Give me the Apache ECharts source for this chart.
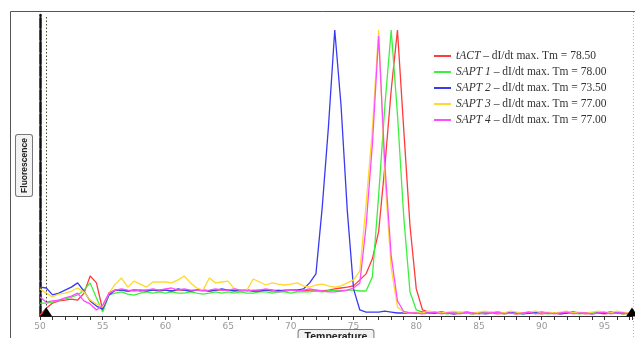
<!DOCTYPE html>
<html>
<head>
<meta charset="utf-8">
<script src="https://cdn.jsdelivr.net/npm/echarts@6/dist/echarts.min.js"></script>
<style>html,body{margin:0;padding:0;background:#fff;}#c{width:635px;height:338px;}</style>
</head>
<body>
<div id="c"></div>
<script>
const temps = [
  50,50.5,51,51.5,52,52.5,53,53.5,54,54.5,
  55,55.5,56,56.5,57,57.5,58,58.5,59,59.5,
  60,60.5,61,61.5,62,62.5,63,63.5,64,64.5,
  65,65.5,66,66.5,67,67.5,68,68.5,69,69.5,
  70,70.5,71,71.5,72,72.5,73,73.5,74,74.5,
  75,75.5,76,76.5,77,77.5,78,78.5,79,79.5,
  80,80.5,81,81.5,82,82.5,83,83.5,84,84.5,
  85,85.5,86,86.5,87,87.5,88,88.5,89,89.5,
  90,90.5,91,91.5,92,92.5,93,93.5,94,94.5,
  95,95.5,96,96.5,97
];
const seriesNames = ['tACT', 'SAPT 1', 'SAPT 2', 'SAPT 3', 'SAPT 4'];
const tmValues = ['78.50', '78.00', '73.50', '77.00', '77.00'];
const xTickLabels = [50, 55, 60, 65, 70, 75, 80, 85, 90, 95];

const tACT = [
  0.3,2.6,4.3,5.0,5.3,5.6,5.3,7.5,13.3,11,
  2,7.6,8.6,8.6,8.3,8.6,8.3,8.6,8.6,8.3,
  8.6,8.3,8.6,8.6,8.3,8.6,8.6,8.3,8.6,8.6,
  8.6,8.6,8.3,8.6,8.3,8.6,8.6,8.3,8.6,8.3,
  8.6,8.6,8.3,8.6,8.6,8.3,8.6,9.0,9.3,9.6,
  10,12,14,19,28,50,75,95,62,30,
  9,2,1.3,1.0,1.3,1.0,0.7,1.0,1.0,0.7,
  1.0,1.3,1.0,0.7,1.0,1.0,0.7,1.0,1.3,1.0,
  0.7,1.0,1.0,0.7,1.0,1.3,1.0,0.7,1.0,1.0,
  0.7,1.0,1.0,0.7,1.0
];
const sapt1 = [
  4.3,4.3,4.6,5.3,5.6,6.3,7.0,8.6,11,6,
  1.3,7.0,7.6,8.0,7.3,6.9,7.6,8.0,7.6,8.0,
  7.6,8.0,7.6,7.6,8.0,7.6,7.3,7.6,8.0,7.6,
  8.0,7.6,8.0,7.6,7.6,8.0,8.0,7.6,8.0,8.0,
  7.6,8.0,8.0,8.0,8.3,8.0,8.3,8.6,8.3,8.6,
  8.6,8.3,8.3,13,40,70,95,67,33,8,
  2,1.3,1.0,1.3,1.0,0.7,1.0,1.3,1.0,0.7,
  1.0,1.0,1.3,1.0,0.7,1.0,1.0,0.7,1.0,1.3,
  1.0,0.7,1.0,1.0,1.3,1.0,0.7,1.0,1.0,1.3,
  1.0,1.3,1.0,0.7,1.0
];
const sapt2 = [
  9.6,9.3,7.0,7.6,8.6,9.6,11,8.3,5,3.3,
  2.3,7.0,8.6,8.6,8.3,8.6,8.6,8.3,8.6,8.6,
  8.6,8.3,9.0,8.6,8.3,8.6,8.6,8.3,8.6,9.0,
  8.6,8.3,8.6,8.6,8.3,8.3,8.6,8.6,8.3,8.6,
  8.6,8.6,9.0,11,14,36,63,95,70,35,
  9,2,1.3,1.3,1.3,1.6,1.3,1.0,1.0,1.0,
  1.0,1.3,1.0,1.0,1.3,1.0,0.7,1.0,1.3,1.0,
  1.0,0.7,1.0,1.3,1.0,1.3,1.0,0.7,1.0,1.0,
  1.3,1.0,1.0,0.7,1.0,1.3,1.0,1.0,0.7,1.0,
  1.0,1.3,1.0,1.0,0.7
];
const sapt3 = [
  9.0,7.6,6.3,7.3,7.6,8.3,9.3,8.0,5.3,4.0,
  3.0,7.6,10.6,12.6,9.6,11.6,10.6,9.6,11.3,11.3,
  11.3,11.0,12.0,13.3,11.0,9.3,8.6,12.6,11.0,11.3,
  11.6,9.0,8.6,8.6,12.3,11.3,10.3,11.0,10.6,10.3,
  10.6,11.0,10.0,9.6,10.3,10.6,10.0,9.6,10.0,11.0,
  12,15,37,62,95,46,16,3,1.3,1.0,
  1.3,1.0,1.6,1.3,1.0,1.3,1.6,1.0,1.3,1.0,
  1.3,1.6,1.0,1.3,1.0,1.6,1.3,1.0,1.3,1.6,
  1.0,1.3,1.0,1.3,1.6,1.0,1.3,1.0,1.3,1.6,
  1.3,1.0,1.6,1.3,1.0
];
const sapt4 = [
  6.3,4.6,5.0,5.3,6.0,6.6,7.6,5.0,4.0,2.0,
  3.6,7.6,8.6,9.0,8.6,8.3,8.6,8.6,9.0,8.6,
  9.0,9.3,8.6,9.0,8.6,8.6,8.3,8.6,9.0,8.6,
  8.6,9.0,8.6,8.3,8.6,8.6,9.0,8.6,8.0,8.3,
  8.6,8.3,8.6,9.0,8.6,8.3,8.0,8.0,8.3,8.6,
  9.3,11,30,57,93,50,20,5,1.5,1.0,
  1.0,0.7,1.0,1.3,0.7,1.0,1.0,0.7,1.3,1.0,
  0.7,1.0,1.0,1.3,0.7,1.0,0.7,1.0,1.3,0.7,
  1.0,1.0,0.7,1.0,1.3,0.7,1.0,1.0,0.7,1.0,
  1.3,0.7,1.0,1.0,0.7
];
const seriesValues = [tACT, sapt1, sapt2, sapt3, sapt4];
const colors = ['#ff3b3b', '#3ef03e', '#3a3af2', '#ffd92e', '#ff4cff'];

const chart = echarts.init(document.getElementById('c'), null, {renderer: 'canvas'});

const series = seriesNames.map((name, k) => ({
  name: name,
  type: 'line',
  showSymbol: false,
  symbol: 'none',
  data: temps.map((t, i) => [t, seriesValues[k][i]]),
  lineStyle: {width: 1.3, color: colors[k]},
  itemStyle: {color: colors[k]},
  z: 3
}));

series.push({
  name: '_markers',
  type: 'line',
  data: [],
  markLine: {
    silent: true,
    symbol: 'none',
    label: {show: false},
    lineStyle: {type: [1.5, 2], color: '#4a4a2a', width: 1},
    data: [{xAxis: 50.5}]
  },
  markPoint: {
    silent: true,
    symbol: 'triangle',
    symbolSize: [12, 9],
    symbolOffset: [0, -4],
    itemStyle: {color: '#000'},
    label: {show: false},
    data: [{coord: [50.5, 0]}, {coord: [97.2, 0]}]
  }
});

chart.setOption({
  animation: false,
  backgroundColor: '#fff',
  grid: {left: 40, right: 3, top: 15, bottom: 22, containLabel: false, outerBoundsMode: 'none'},
  legend: {
    data: seriesNames,
    orient: 'vertical',
    left: 429,
    top: 45,
    icon: 'rect',
    itemWidth: 17,
    itemHeight: 2,
    itemGap: 4,
    formatter: function (name) {
      const k = seriesNames.indexOf(name);
      return '{i|' + name + '}{n| \u2013 dI/dt max. Tm = ' + tmValues[k] + '}';
    },
    textStyle: {
      fontFamily: 'Liberation Serif',
      fontSize: 11.5,
      color: '#333',
      rich: {
        i: {fontFamily: 'Liberation Serif', fontStyle: 'italic', fontSize: 11.5, color: '#333', lineHeight: 13},
        n: {fontFamily: 'Liberation Serif', fontSize: 11.5, color: '#333', lineHeight: 13}
      }
    }
  },
  xAxis: {
    type: 'value',
    min: 50,
    max: 97.2,
    interval: 5,
    name: 'Temperature',
    nameLocation: 'middle',
    nameGap: 14,
    nameMoveOverlap: false,
    nameTextStyle: {
      fontFamily: 'Liberation Sans', fontSize: 10.5, fontWeight: 'bold', color: '#222', align: 'center',
      borderColor: '#777', borderWidth: 1, borderRadius: 2, padding: [2, 6, 2, 6], backgroundColor: '#f3f3f3'
    },
    axisLine: {lineStyle: {color: '#333', width: 1}},
    axisTick: {show: true, length: 4, lineStyle: {color: '#333'}},
    minorTick: {show: true, splitNumber: 5, length: 4, lineStyle: {color: '#333'}},
    axisLabel: {
      color: '#999', fontSize: 9, fontFamily: 'DejaVu Sans', margin: 6,
      showMaxLabel: false,
      formatter: function (v) { return xTickLabels.indexOf(v) >= 0 ? String(v) : ''; }
    },
    splitLine: {show: false}
  },
  yAxis: {
    type: 'value',
    min: 0,
    max: 100,
    name: 'Fluorescence',
    nameLocation: 'middle',
    nameRotate: 90,
    nameGap: 8,
    nameMoveOverlap: false,
    nameTextStyle: {
      fontFamily: 'Liberation Sans', fontSize: 8.5, fontWeight: 'bold', color: '#222',
      borderColor: '#777', borderWidth: 1, borderRadius: 2, padding: [4, 3, 3, 3], backgroundColor: '#f3f3f3'
    },
    axisLine: {show: true, lineStyle: {color: '#111', width: 2.5, type: [10, 2]}},
    axisTick: {show: false},
    axisLabel: {show: false},
    splitLine: {show: false}
  },
  graphic: [
    {type: 'line', shape: {x1: 10.5, y1: 11.5, x2: 635, y2: 11.5}, style: {stroke: '#555', lineWidth: 1}, silent: true},
    {type: 'line', shape: {x1: 10.5, y1: 11.5, x2: 10.5, y2: 338}, style: {stroke: '#555', lineWidth: 1}, silent: true},
    {type: 'line', shape: {x1: 633.5, y1: 12, x2: 633.5, y2: 338}, style: {stroke: '#bbb', lineWidth: 1, lineDash: [1, 2]}, silent: true}
  ],
  series: series
});
</script>
</body>
</html>
